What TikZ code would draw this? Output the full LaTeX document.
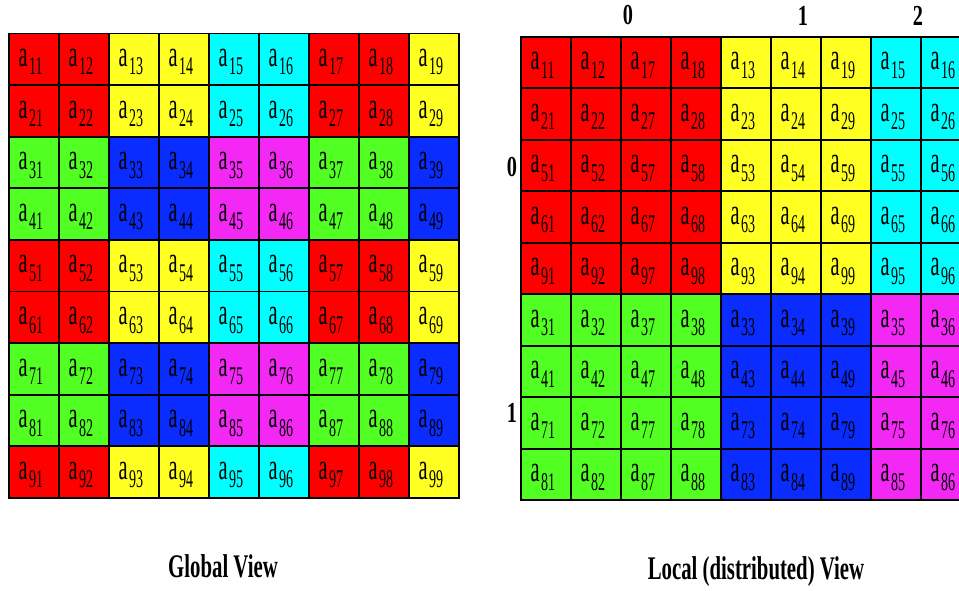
\documentclass[tikz,border=0pt]{standalone}
\usepackage{fontspec}
\setmainfont{Liberation Serif}
\newfontfamily\cellfont[FakeStretch=0.55]{Liberation Serif}
\newfontfamily\labfont[FakeStretch=0.7]{Liberation Serif}
\newfontfamily\capfont[FakeStretch=0.63]{Liberation Serif}
\usepackage{xcolor}
\definecolor{p00}{HTML}{FF0000}
\definecolor{p01}{HTML}{FFFF22}
\definecolor{p02}{HTML}{00FFFF}
\definecolor{p10}{HTML}{52FF22}
\definecolor{p11}{HTML}{0A2CFF}
\definecolor{p12}{HTML}{F428F4}
\newcommand{\aij}[1]{{\fontsize{37}{37}\selectfont a}\kern1.5pt\raisebox{-8.5pt}{\fontsize{25.5}{25.5}\selectfont #1}}
\tikzset{
  cell/.style={draw=black,line width=1.7pt,minimum width=50pt,minimum height=51.6pt,inner sep=0pt,outer sep=0pt,anchor=north west},
  entry/.style={anchor=base west,inner sep=0pt,font=\cellfont},
  lab/.style={inner sep=0pt,font=\labfont\bfseries\fontsize{29}{29}\selectfont},
  caption/.style={anchor=base,inner sep=0pt,font=\capfont\bfseries\fontsize{33}{33}\selectfont}
}
\begin{document}
\begin{tikzpicture}[x=1pt,y=-1pt]
\clip (0,0) rectangle (959,591);
% global view
\foreach \i in {1,...,9}{
  \foreach \j in {1,...,9}{
    \pgfmathtruncatemacro\pr{mod(int((\i-1)/2),2)}
    \pgfmathtruncatemacro\pc{mod(int((\j-1)/2),3)}
    \node[cell,fill=p\pr\pc] (g\i\j) at ({9+50*(\j-1)},{33.5+51.6*(\i-1)}) {};
    \node[entry] (tg\i\j) at ([shift={(9.3,33)}]g\i\j.north west) {\aij{\i\j}};
  }
}
% local (distributed) view
\foreach \gi [count=\r] in {1,2,5,6,9,3,4,7,8}{
  \foreach \gj [count=\c] in {1,2,7,8,3,4,9,5,6}{
    \pgfmathtruncatemacro\pr{mod(int((\gi-1)/2),2)}
    \pgfmathtruncatemacro\pc{mod(int((\gj-1)/2),3)}
    \node[cell,minimum height=51.5pt,fill=p\pr\pc] (l\r\c) at ({521+50*(\c-1)},{36.7+51.5*(\r-1)}) {};
    \node[entry] (tl\r\c) at ([shift={(9.3,33)}]l\r\c.north west) {\aij{\gi\gj}};
  }
}
\node[lab] (pc0) at (628,15.5) {0};
\node[lab] (pc1) at (803,15.5) {1};
\node[lab] (pc2) at (918,15.5) {2};
\node[lab] (pr0) at (512,167) {0};
\node[lab] (pr1) at (512,412.5) {1};
\node[caption] (gcap) at (223,577) {Global View};
\node[caption] (lcap) at (756,579) {Local (distributed) View};
\end{tikzpicture}
\end{document}
